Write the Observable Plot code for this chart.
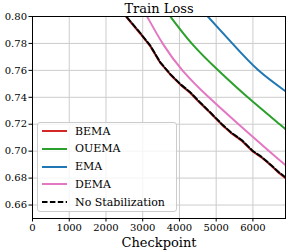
<!DOCTYPE html>
<html>
<head>
<meta charset="utf-8">
<script src="https://cdn.jsdelivr.net/npm/d3@7"></script>
<script src="https://cdn.jsdelivr.net/npm/@observablehq/plot@0.6"></script>
<style>
  html, body { margin: 0; padding: 0; background: white; }
  #wrap { position: relative; width: 289px; height: 252px; }
  #legend {
    position: absolute; left: 37px; top: 122px; width: 140px; height: 90px;
    box-sizing: border-box; border: 1px solid #cccccc; border-radius: 3px;
    background: rgba(255,255,255,0.8);
    font-family: "DejaVu Serif", serif; font-size: 11px; color: #000;
  }
  .row { position: absolute; left: 0; height: 18px; display: flex; align-items: center; }
  .row svg { margin-left: 4px; }
  .row span { margin-left: 8px; white-space: nowrap; font-family: "DejaVu Serif", serif; }
</style>
</head>
<body>
<div id="wrap"><div id="legend"></div></div>
<script>
const title = "Train Loss";
const xLabel = "Checkpoint";
const names = ["BEMA", "OUEMA", "EMA", "DEMA", "No Stabilization"];
const colors = ["#d62728", "#2ca02c", "#1f77b4", "#e377c2", "#000000"];
const xTicks = [0, 1000, 2000, 3000, 4000, 5000, 6000];
const yTicks = [0.66, 0.68, 0.70, 0.72, 0.74, 0.76, 0.78, 0.80];

const baseCheckpoints = [2300, 2556, 2936, 3208, 3480, 3752, 4024, 4296, 4513, 4850, 5158, 5400, 5701, 6003, 6200, 6335, 6500, 6700, 6887];
const bemaLoss   = [0.8080, 0.7995, 0.7872, 0.7778, 0.7655, 0.7568, 0.7494, 0.7432, 0.7371, 0.7281, 0.7195, 0.7136, 0.7076, 0.6996, 0.6960, 0.6930, 0.6891, 0.6840, 0.6800];
const noStabLoss = [0.8084, 0.8000, 0.7876, 0.7783, 0.7659, 0.7572, 0.7498, 0.7437, 0.7375, 0.7285, 0.7200, 0.7140, 0.7081, 0.7000, 0.6965, 0.6935, 0.6895, 0.6845, 0.6806];

const ouemaCheckpoints = [3500, 3752, 4350, 5075, 5859, 6729, 6887];
const ouemaLoss        = [0.8086, 0.8000, 0.7795, 0.7595, 0.7400, 0.7200, 0.7163];

const emaCheckpoints = [4500, 4772, 5438, 6150, 6887];
const emaLoss        = [0.8082, 0.8000, 0.7800, 0.7600, 0.7445];

const demaCheckpoints = [2869, 3119, 3554, 4098, 4800, 5609, 6444, 6887];
const demaLoss        = [0.8118, 0.8000, 0.7795, 0.7595, 0.7400, 0.7200, 0.7000, 0.6896];

const toRows = (xs, ys) => xs.map((x, i) => ({x, y: ys[i]}));
const series = [
  {name: names[0], color: colors[0], rows: toRows(baseCheckpoints, bemaLoss), dash: null, curve: "linear"},
  {name: names[1], color: colors[1], rows: toRows(ouemaCheckpoints, ouemaLoss), dash: null, curve: "natural"},
  {name: names[2], color: colors[2], rows: toRows(emaCheckpoints, emaLoss), dash: null, curve: "natural"},
  {name: names[3], color: colors[3], rows: toRows(demaCheckpoints, demaLoss), dash: null, curve: "natural"},
  {name: names[4], color: colors[4], rows: toRows(baseCheckpoints, noStabLoss), dash: "5.5,2.4", curve: "linear"}
];

const font = "DejaVu Serif";
const chart = Plot.plot({
  width: 289, height: 252,
  marginLeft: 32, marginRight: 4, marginTop: 16, marginBottom: 34,
  style: {fontFamily: font, background: "white", color: "#000"},
  x: {domain: [0, 6887]},
  y: {domain: [0.65, 0.80]},
  marks: [
    Plot.gridX(xTicks, {stroke: "#cccccc", strokeOpacity: 1, strokeWidth: 1}),
    Plot.gridY(yTicks, {stroke: "#cccccc", strokeOpacity: 1, strokeWidth: 1}),
    ...series.map(s => Plot.line(s.rows, {
      x: "x", y: "y", stroke: s.color, strokeWidth: 2, clip: true, curve: s.curve,
      strokeDasharray: s.dash ?? undefined
    })),
    Plot.frame({stroke: "#000", strokeWidth: 1}),
    Plot.axisX(xTicks, {tickSize: 3.5, tickPadding: 2, fontSize: 10, fontFamily: font, tickFormat: d => String(d), label: null}),
    Plot.axisY(yTicks, {tickSize: 3.5, tickPadding: 2, fontSize: 10, fontFamily: font, tickFormat: d3.format(".2f"), label: null}),
    Plot.text([title], {frameAnchor: "top", lineAnchor: "bottom", dy: -3.3, fontSize: 13, fontFamily: font, fill: "#000"}),
    Plot.text([xLabel], {frameAnchor: "bottom", lineAnchor: "bottom", dy: 28, fontSize: 13, fontFamily: font, fill: "#000"})
  ]
});
document.getElementById("wrap").prepend(chart);

const legend = document.getElementById("legend");
series.forEach((s, i) => {
  const row = document.createElement("div");
  row.className = "row";
  row.style.top = (-1 + 0.1 + i * 17.75) + "px";
  row.innerHTML = `<svg width="25" height="6"><line x1="0" x2="25" y1="3" y2="3" stroke="${s.color}" stroke-width="2" ${s.dash ? `stroke-dasharray="${s.dash}"` : ""}/></svg><span>${s.name}</span>`;
  legend.appendChild(row);
});
</script>
</body>
</html>
